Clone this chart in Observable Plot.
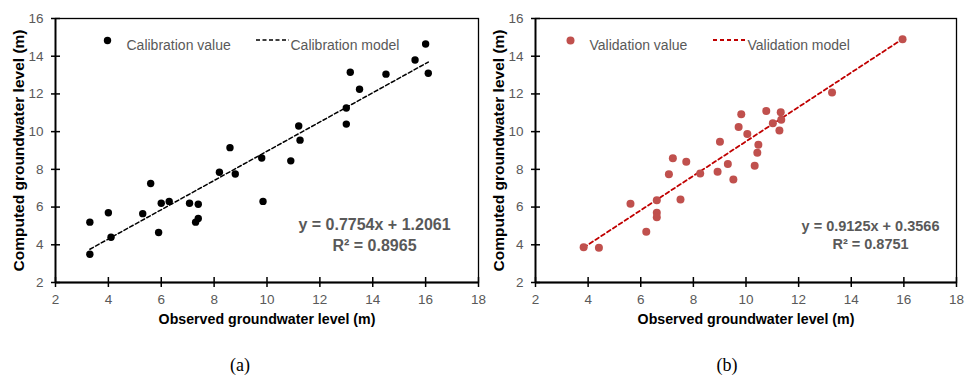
<!DOCTYPE html>
<html><head><meta charset="utf-8">
<script src="https://cdn.jsdelivr.net/npm/d3@7"></script>
<script src="https://cdn.jsdelivr.net/npm/@observablehq/plot@0.6"></script>
<style>
body{margin:0;background:#fff;width:965px;height:378px;position:relative;overflow:hidden;font-family:"Liberation Sans",Arial,sans-serif;}
.panel{position:absolute;top:0;}
.lab{position:absolute;top:355px;font-family:"Liberation Serif","Times New Roman",serif;font-size:18px;width:60px;text-align:center;color:#000;}
</style></head><body>
<div id="pa" class="panel" style="left:0"></div>
<div id="pb" class="panel" style="left:480px"></div>
<div class="lab" style="left:210px">(a)</div>
<div class="lab" style="left:697px">(b)</div>
<script>
// ---- data ----
const xTicks = [2, 4, 6, 8, 10, 12, 14, 16, 18];
const yTicks = [2, 4, 6, 8, 10, 12, 14, 16];

const calObserved = [3.3, 3.3, 4.0, 4.1, 5.3, 5.6, 5.9, 6.0, 6.3, 7.07, 7.3, 7.4, 7.4, 8.2, 8.8, 9.8, 9.85, 10.9, 8.6, 11.2, 11.25, 13.0, 13.0, 13.15, 13.5, 14.5, 15.6, 16.0, 16.1];
const calComputed = [3.5, 5.2, 5.7, 4.4, 5.65, 7.25, 4.65, 6.2, 6.3, 6.2, 5.2, 5.4, 6.15, 7.85, 7.75, 8.6, 6.3, 8.45, 9.15, 10.3, 9.55, 10.4, 11.25, 13.15, 12.25, 13.05, 13.8, 14.65, 13.1];
const calSlope = 0.7754, calIntercept = 1.2061;
const calEquation = "y = 0.7754x + 1.2061";
const calR2 = "R² = 0.8965";

const valObserved = [3.83, 4.41, 5.61, 6.21, 6.61, 6.61, 6.61, 7.07, 7.22, 7.51, 7.73, 8.26, 8.92, 9.31, 9.52, 10.33, 10.43, 9.01, 9.72, 9.82, 10.05, 10.47, 10.77, 11.02, 11.32, 11.34, 11.27, 13.27, 15.95];
const valComputed = [3.87, 3.84, 6.17, 4.69, 6.36, 5.7, 5.46, 7.74, 8.59, 6.4, 8.4, 7.78, 7.87, 8.29, 7.46, 8.19, 8.88, 9.46, 10.25, 10.92, 9.88, 9.3, 11.1, 10.45, 11.03, 10.63, 10.06, 12.07, 14.9];
const valSlope = 0.9125, valIntercept = 0.3566;
const valEquation = "y = 0.9125x + 0.3566";
const valR2 = "R² = 0.8751";

const xTitle = "Observed groundwater level (m)";
const yTitle = "Computed groundwater level (m)";

function panel(cfg) {
  const pts = cfg.obs.map((o, i) => ({x: o, y: cfg.comp[i]}));
  const ext = d3.extent(cfg.obs);
  const line = ext.map(x => ({x, y: cfg.slope * x + cfg.intercept}));
  const grey = "#595959";
  const svg = Plot.plot({
    width: 482, height: 336,
    marginLeft: 55, marginRight: cfg.mr, marginTop: 18, marginBottom: 54,
    style: {background: "transparent", overflow: "visible", fontFamily: "'Liberation Sans', Arial, sans-serif"},
    x: {domain: [2, 18]},
    y: {domain: [2, 16]},
    marks: [
      Plot.frame({stroke: "#000", strokeWidth: 1.3}),
      Plot.ruleY([2], {stroke: "#000", strokeWidth: 2}),
      Plot.ruleX([2], {stroke: "#000", strokeWidth: 1.8}),
      Plot.axisX(xTicks, {tickSize: 10, dy: -5, fill: "none", stroke: "#000", strokeWidth: 1.5, label: null}),
      Plot.axisX(xTicks, {tickSize: 0, tickPadding: 12, fill: grey, fontSize: 13.5, label: null}),
      Plot.axisY(yTicks, {tickSize: 9, dx: 5, fill: "none", stroke: "#000", strokeWidth: 1.5, label: null}),
      Plot.axisY(yTicks, {tickSize: 0, tickPadding: 12, fill: grey, fontSize: 13.5, label: null}),
      Plot.text([xTitle], {text: d => d, frameAnchor: "bottom", dy: 41, fontWeight: "bold", fontSize: 14.2, fill: "#000"}),
      Plot.text([yTitle], {text: d => d, frameAnchor: "left", textAnchor: "middle", dx: -36, rotate: -90, fontWeight: "bold", fontSize: 15.5, fill: "#000"}),
      Plot.line(line, {x: "x", y: "y", stroke: cfg.lineColor, strokeWidth: cfg.lw, strokeDasharray: cfg.dash}),
      Plot.dot(pts, {x: "x", y: "y", r: cfg.r, fill: cfg.dotColor, stroke: "none"}),
      Plot.text([cfg.eq], {text: d => d, frameAnchor: "bottom-right", textAnchor: "middle", dx: cfg.eqdx, dy: cfg.eqdy, fontWeight: "bold", fontSize: cfg.eqfs, fill: grey}),
      Plot.text([cfg.r2], {text: d => d, frameAnchor: "bottom-right", textAnchor: "middle", dx: cfg.eqdx, dy: cfg.r2dy, fontWeight: "bold", fontSize: cfg.eqfs, fill: grey}),
      // legend
      Plot.dot([cfg.legDot], {frameAnchor: "top-left", dx: cfg.legDotX - 55, dy: 22, r: cfg.r, fill: cfg.dotColor}),
      Plot.text([cfg.legDot], {text: d => d, frameAnchor: "top-left", dx: cfg.legDotX - 55 + 19, dy: 22, textAnchor: "start", fontSize: 14, fill: grey}),
      Plot.text([cfg.legLine], {text: d => d, frameAnchor: "top-left", dx: cfg.legLineX - 55 + 34, dy: 22, textAnchor: "start", fontSize: 14, fill: grey})
    ]
  });
  d3.select(svg).append("line")
    .attr("x1", cfg.legLineX).attr("x2", cfg.legLineX + 33)
    .attr("y1", 40).attr("y2", 40)
    .attr("stroke", cfg.lineColor).attr("stroke-width", cfg.lw).attr("stroke-dasharray", cfg.dash);
  return svg;
}

document.getElementById("pa").append(panel({
  obs: calObserved, comp: calComputed, slope: calSlope, intercept: calIntercept,
  eq: calEquation, r2: calR2, mr: 4, dotColor: "#000", lineColor: "#000", lw: 1.5, r: 3.7, dash: "4,2.5",
  eqdx: -104, eqdy: -53, r2dy: -32, eqfs: 16,
  legDot: "Calibration value", legLine: "Calibration model", legDotX: 107, legLineX: 256
}));
document.getElementById("pb").append(panel({
  obs: valObserved, comp: valComputed, slope: valSlope, intercept: valIntercept,
  eq: valEquation, r2: valR2, mr: 6, dotColor: "#C0504D", lineColor: "#C00000", lw: 1.8, r: 4, dash: "4,3",
  eqdx: -86, eqdy: -52, r2dy: -34, eqfs: 14.5,
  legDot: "Validation value", legLine: "Validation model", legDotX: 90, legLineX: 233
}));
</script>
</body></html>
